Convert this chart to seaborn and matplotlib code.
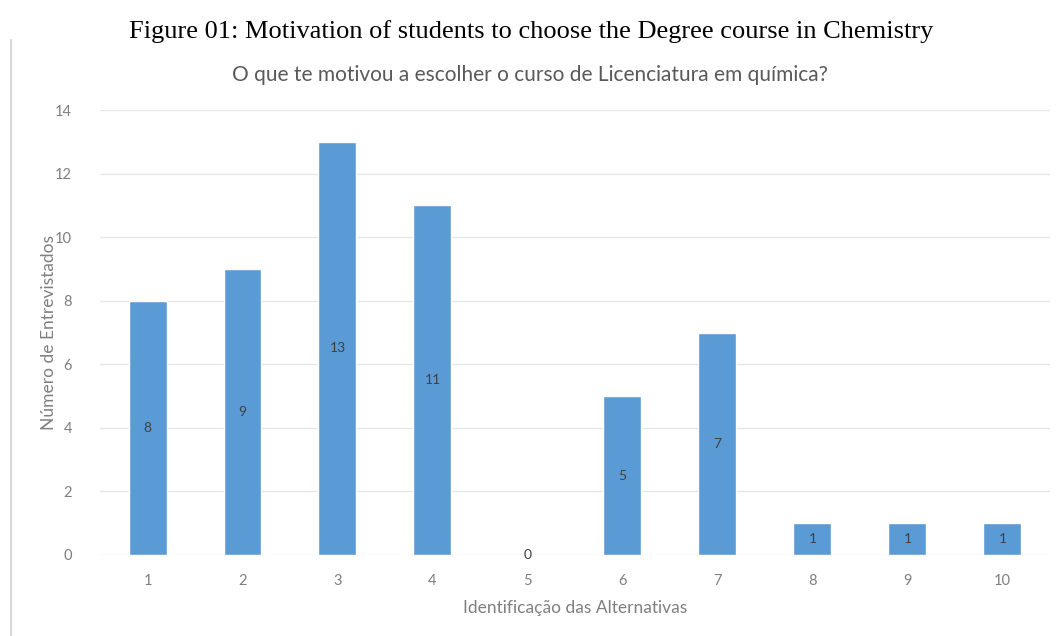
import matplotlib
matplotlib.use("Agg")
import matplotlib.pyplot as plt
from matplotlib.lines import Line2D
import pandas as pd
import seaborn as sns

sns.set_style("white")
plt.rcParams['font.family'] = ['Lato', 'DejaVu Sans']

# data
alternativas = ['1', '2', '3', '4', '5', '6', '7', '8', '9', '10']
entrevistados = [8, 9, 13, 11, 0, 5, 7, 1, 1, 1]
yticks = [0, 2, 4, 6, 8, 10, 12, 14]

df = pd.DataFrame({'alt': alternativas, 'n': entrevistados})

fig = plt.figure(figsize=(10.56, 6.36), dpi=100)
ax = fig.add_axes([0.0947, 0.1274, 0.8996, 0.6996])

sns.barplot(data=df, x='alt', y='n', order=alternativas, color='#5B9BD5',
            saturation=1, width=0.4, ax=ax)

# value labels in the middle of each bar
for i, v in enumerate(entrevistados):
    ax.text(i, v / 2, str(v), ha='center', va='center', fontsize=10, color='#404040')

ax.set_ylim(0, 14)
ax.set_yticks(yticks)
ax.set_xlim(-0.5, len(alternativas) - 0.5)
ax.yaxis.grid(True, color='#E6E6E6', linewidth=1)
ax.set_axisbelow(True)
for s in ax.spines.values():
    s.set_visible(False)
ax.tick_params(axis='both', length=0, labelsize=10.5, colors='#7F7F7F')
ax.tick_params(axis='x', pad=14)
ax.tick_params(axis='y', pad=20)

ax.set_xlabel('Identificação das Alternativas', fontsize=12.5, color='#7F7F7F', labelpad=8)
ax.set_ylabel('Número de Entrevistados', fontsize=12.5, color='#7F7F7F', labelpad=-1)

fig.text(0.503, 0.95, 'Figure 01: Motivation of students to choose the Degree course in Chemistry',
         ha='center', va='center', fontsize=19, family='Liberation Serif', color='black')
fig.text(0.502, 0.882, 'O que te motivou a escolher o curso de Licenciatura em química?',
         ha='center', va='center', fontsize=15, color='#595959')

# left border of the embedded chart frame
fig.add_artist(Line2D([0.0105, 0.0105], [0, 0.937], color='#D9D9D9', linewidth=1.5))

fig.savefig('out.png', dpi=100)
